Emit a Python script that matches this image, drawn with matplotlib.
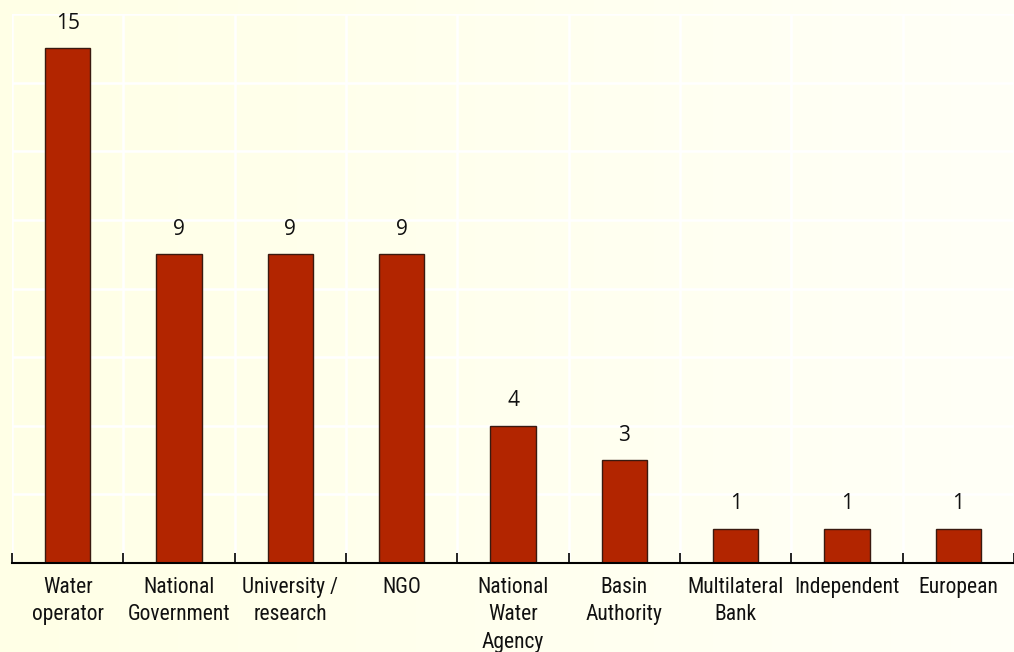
import numpy as np
import matplotlib.pyplot as plt
from matplotlib.colors import LinearSegmentedColormap

categories = ["Water\noperator", "National\nGovernment", "University /\nresearch", "NGO",
              "National\nWater\nAgency", "Basin\nAuthority", "Multilateral\nBank",
              "Independent", "European"]
counts = [15, 9, 9, 9, 4, 3, 1, 1, 1]

fig = plt.figure(figsize=(10.14, 6.52), dpi=100)

# soft cream backdrop, slightly warmer on the left
bg = fig.add_axes([0, 0, 1, 1], zorder=0)
grad = np.linspace(0, 1, 256).reshape(1, -1)
cmap = LinearSegmentedColormap.from_list("cream", ["#ffffe6", "#fffff7"])
bg.imshow(grad, aspect="auto", cmap=cmap, extent=[0, 1, 0, 1])
bg.axis("off")

ax = fig.add_axes([12 / 1014, 1 - 563 / 652, 1 - 12 / 1014, (563 - 14) / 652], zorder=1)
ax.patch.set_alpha(0)

x = np.arange(len(categories))
bars = ax.bar(x, counts, width=0.41, color="#b22500", edgecolor="#3a1a10", linewidth=1, zorder=3)
for xi, v in zip(x, counts):
    ax.text(xi, v + 0.42, str(v), ha="center", va="bottom", fontsize=15,
            family=["Open Sans", "DejaVu Sans"], color="#111111")

ax.set_xlim(-0.5, len(categories) - 0.5)
ax.set_ylim(0, 16)

# white grid: rows every 2, columns on category boundaries
for y in np.arange(2, 17, 2):
    ax.axhline(y, color="white", linewidth=1.8, zorder=1)
for b in np.arange(-0.5, len(categories), 1):
    ax.axvline(b, color="white", linewidth=1.8, zorder=1)

label_font = ["Liberation Sans Narrow", "Roboto Condensed", "Liberation Sans", "DejaVu Sans"]
ax.set_xticks(x)
ax.set_xticklabels(categories, fontsize=15.5, family=label_font,
                   linespacing=1.4, va="top", color="#111111")
ax.tick_params(axis="x", which="major", length=0, pad=10)
ax.set_xticks(np.arange(-0.5, len(categories), 1), minor=True)
ax.tick_params(axis="x", which="minor", direction="in", length=7, width=1.2)
ax.set_yticks([])

for s in ["top", "right", "left"]:
    ax.spines[s].set_visible(False)
ax.spines["bottom"].set_linewidth(1.5)
ax.spines["bottom"].set_zorder(4)

fig.savefig("out.png", dpi=100)
